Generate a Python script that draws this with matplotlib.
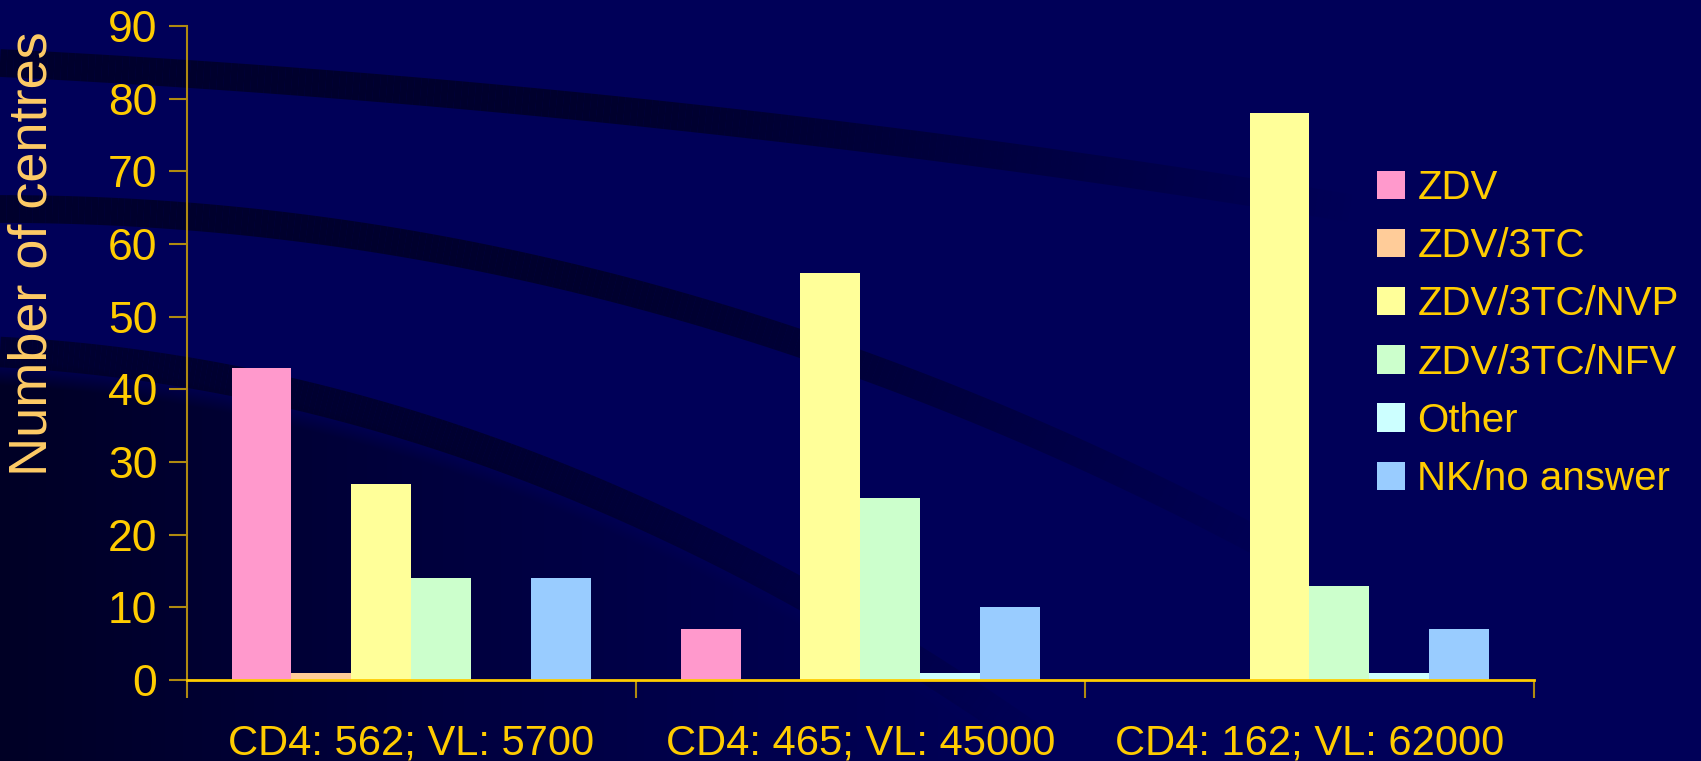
import matplotlib
matplotlib.use("Agg")
import matplotlib.pyplot as plt
from matplotlib.collections import LineCollection
import numpy as np

categories = ["CD4: 562; VL: 5700", "CD4: 465; VL: 45000", "CD4: 162; VL: 62000"]
series_names = ["ZDV", "ZDV/3TC", "ZDV/3TC/NVP", "ZDV/3TC/NFV", "Other", "NK/no answer"]
zdv = [43, 7, 0]
zdv_3tc = [1, 0, 0]
zdv_3tc_nvp = [27, 56, 78]
zdv_3tc_nfv = [14, 25, 13]
other = [0, 1, 1]
nk_no_answer = [14, 10, 7]
yticks = [0, 10, 20, 30, 40, 50, 60, 70, 80, 90]

series = [zdv, zdv_3tc, zdv_3tc_nvp, zdv_3tc_nfv, other, nk_no_answer]
colors = ["#FF99CC", "#FFCC99", "#FFFF99", "#CCFFCC", "#CCFFFF", "#99CCFF"]

plt.rcParams['font.family'] = ['Liberation Sans', 'DejaVu Sans']
BG = "#000058"
GOLD = "#FFCC00"
AXC = "#B08A10"

W, H = 1701, 761
fig = plt.figure(figsize=(W / 100, H / 100), dpi=100, facecolor=BG)

# decorative background swooshes (pixel coordinates, y downward)
bg = fig.add_axes([0, 0, 1, 1], zorder=-10)
bg.set_xlim(0, W)
bg.set_ylim(H, 0)
bg.axis("off")
bg.set_facecolor(BG)

# dark shading in the lower-left corner, below the lowest swoosh
gx, gy = np.meshgrid(np.arange(W), np.arange(H))
curve = 360 + 0.0508 * gx + 3.13e-4 * gx ** 2
below = np.clip((gy - curve) / 25.0, 0, 1)
fade = np.clip(1 - gx / 1100.0, 0, 1) ** 1.3
alpha = 0.75 * below * fade
img = np.zeros((H, W, 4))
img[..., 2] = 0.08
img[..., 3] = alpha
bg.imshow(img, extent=(0, W, H, 0), aspect="auto", interpolation="bilinear", zorder=0)


def swoosh(y0, a, b, L, lw, amax):
    xx = np.linspace(0, L, 200)
    yy = y0 + a * xx + b * xx ** 2
    pts = np.column_stack([xx, yy]).reshape(-1, 1, 2)
    segs = np.concatenate([pts[:-1], pts[1:]], axis=1)
    t = xx[:-1] / L
    alphas = amax * np.clip(1.25 - 1.25 * t ** 2, 0, 1)
    cols = np.zeros((len(t), 4))
    cols[:, 3] = alphas
    cols[:, 2] = 0.12
    lc = LineCollection(segs, colors=cols, linewidths=lw, capstyle="butt", zorder=1)
    bg.add_collection(lc)


swoosh(63, 0.0503, 4.24e-5, 1350, 20, 0.75)
swoosh(209, 0.0, 2.1e-4, 1300, 20, 0.75)
swoosh(352, 0.0508, 3.13e-4, 1050, 22, 0.7)

ax = fig.add_axes([186.6 / W, 1 - 680 / H, (1534 - 186.6) / W, (680 - 26) / H])
ax.set_facecolor("none")

n = len(series)
bw = 0.8 / n
x = np.arange(len(categories))
for i, (vals, c, name) in enumerate(zip(series, colors, series_names)):
    ax.bar(x - 0.4 + bw * (i + 0.5), vals, width=bw, color=c, label=name, linewidth=0)

ax.set_xlim(-0.5, len(categories) - 0.5)
ax.set_ylim(0, 90)
ax.set_yticks(yticks)
ax.set_xticks(np.arange(len(categories) + 1) - 0.5)
ax.set_xticklabels([])
ax.set_xticks(x, minor=True)
ax.set_xticklabels(categories, minor=True)
ax.tick_params(axis="x", which="minor", length=0, pad=31, labelsize=30, labelcolor=GOLD)
ax.tick_params(axis="x", which="major", length=13, color=AXC, width=1.5, direction="out")
ax.tick_params(axis="y", length=13, color=AXC, width=1.5, labelsize=32, labelcolor=GOLD, pad=8)
for s in ["top", "right"]:
    ax.spines[s].set_visible(False)
ax.spines["left"].set_color(AXC)
ax.spines["left"].set_linewidth(1.5)
ax.spines["bottom"].set_color(GOLD)
ax.spines["bottom"].set_linewidth(2)

fig.text(33 / W, 1 - 254 / H, "Number of centres", color="#FFCC66", fontsize=39,
         rotation=90, ha="center", va="center")

leg = fig.legend(loc="upper left", bbox_to_anchor=(1361 / W, 1 - 153 / H), frameon=False,
                 fontsize=29, labelcolor=GOLD, handlelength=0.7, handleheight=0.7,
                 handletextpad=0.3, labelspacing=0.5, borderaxespad=0)

fig.savefig("out.png", dpi=100, facecolor=BG)
